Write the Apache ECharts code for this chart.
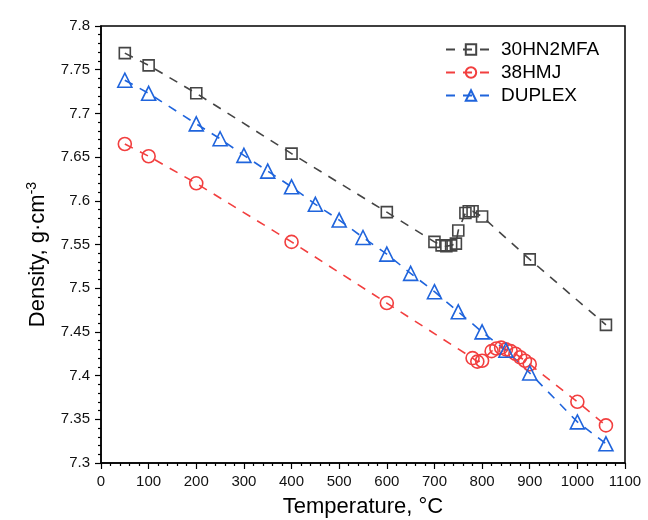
<!DOCTYPE html>
<html>
<head>
<meta charset="utf-8">
<script src="https://cdn.jsdelivr.net/npm/echarts@6/dist/echarts.min.js"></script>
<style>html,body{margin:0;padding:0;background:#fff}#c{width:648px;height:520px}</style>
</head>
<body>
<div id="c"></div>
<script>
const seriesNames = ['30HN2MFA', '38HMJ', 'DUPLEX'];
const xTicks = [0, 100, 200, 300, 400, 500, 600, 700, 800, 900, 1000, 1100];
const yTicks = [7.3, 7.35, 7.4, 7.45, 7.5, 7.55, 7.6, 7.65, 7.7, 7.75, 7.8];

const t30HN2MFA = [50, 100, 200, 400, 600, 700, 715, 725, 735, 745, 750, 765, 772, 780, 800, 900, 1060];
const d30HN2MFA = [7.769, 7.755, 7.723, 7.654, 7.587, 7.553, 7.549, 7.548, 7.549, 7.551, 7.566, 7.586, 7.588, 7.588, 7.582, 7.533, 7.458];

const t38HMJ = [50, 100, 200, 400, 600, 780, 790, 800, 820, 830, 840, 850, 860, 870, 880, 890, 900, 1000, 1060];
const d38HMJ = [7.665, 7.651, 7.620, 7.553, 7.483, 7.420, 7.416, 7.417, 7.428, 7.431, 7.432, 7.430, 7.428, 7.425, 7.421, 7.417, 7.413, 7.370, 7.343];

const tDUPLEX = [50, 100, 200, 250, 300, 350, 400, 450, 500, 550, 600, 650, 700, 750, 800, 850, 900, 1000, 1060];
const dDUPLEX = [7.738, 7.723, 7.688, 7.671, 7.652, 7.634, 7.616, 7.596, 7.578, 7.558, 7.539, 7.517, 7.496, 7.473, 7.450, 7.429, 7.403, 7.347, 7.322];

const colors = ['#454545', '#f23f3f', '#1f64dc'];
const symbols = ['rect', 'circle', 'triangle'];
const sizes = [11, 13, 14];

function zip(a, b) { return a.map((v, i) => [v, b[i]]); }
const dataSets = [zip(t30HN2MFA, d30HN2MFA), zip(t38HMJ, d38HMJ), zip(tDUPLEX, dDUPLEX)];

const FONT = '"Liberation Sans", Arial, sans-serif';
const chart = echarts.init(document.getElementById('c'), null, {renderer: 'canvas'});
chart.setOption({
  animation: false,
  backgroundColor: '#fff',
  grid: {left: 101, right: 23, top: 26, bottom: 57, containLabel: false, outerBoundsMode: 'none',
    show: true, borderColor: '#000', borderWidth: 1.5, backgroundColor: 'transparent'},
  legend: {
    orient: 'vertical', left: 440, top: 35, itemWidth: 50, itemHeight: 13, itemGap: 4,
    textStyle: {fontFamily: FONT, fontSize: 19, color: '#000'},
    data: seriesNames
  },
  xAxis: {
    type: 'value', min: xTicks[0], max: xTicks[xTicks.length - 1], interval: 100,
    name: 'Temperature, °C', nameLocation: 'middle', nameGap: 33,
    nameTextStyle: {fontFamily: FONT, fontSize: 22, color: '#000'},
    axisLine: {show: true, lineStyle: {color: '#000', width: 1.5}},
    axisTick: {show: true, inside: false, length: 6, lineStyle: {color: '#000', width: 1.2}},
    minorTick: {show: true, splitNumber: 5, length: 3, lineStyle: {color: '#000', width: 1.2}},
    axisLabel: {fontFamily: FONT, fontSize: 15, color: '#111', margin: 11, formatter: v => String(v)},
    splitLine: {show: false}
  },
  yAxis: {
    type: 'value', min: yTicks[0], max: yTicks[yTicks.length - 1], interval: 0.05,
    name: '{a|Density, g·cm}{s|-3}', nameLocation: 'middle', nameGap: 50, nameRotate: 90,
    nameTextStyle: {fontFamily: FONT, fontSize: 22, color: '#000', padding: [0, 20, 0, 0],
      rich: {a: {fontFamily: FONT, fontSize: 22, color: '#000'}, s: {fontFamily: FONT, fontSize: 14, color: '#000', verticalAlign: 'top', padding: [0, 0, 12, 0]}}},
    axisLine: {show: true, lineStyle: {color: '#000', width: 1.5}},
    axisTick: {show: true, inside: false, length: 6, lineStyle: {color: '#000', width: 1.2}},
    minorTick: {show: true, splitNumber: 5, length: 3, lineStyle: {color: '#000', width: 1.2}},
    axisLabel: {fontFamily: FONT, fontSize: 15, color: '#111', margin: 11, formatter: v => String(+v.toFixed(2))},
    splitLine: {show: false}
  },
  series: seriesNames.map((n, i) => ({
    name: n, type: 'line', data: dataSets[i],
    symbol: symbols[i], symbolSize: sizes[i],
    lineStyle: {color: colors[i], width: 1.6, type: [9, 8]},
    itemStyle: {color: 'rgba(255,255,255,0)', borderColor: colors[i], borderWidth: 1.6},
    emphasis: {disabled: true}
  }))
});
</script>
</body>
</html>
